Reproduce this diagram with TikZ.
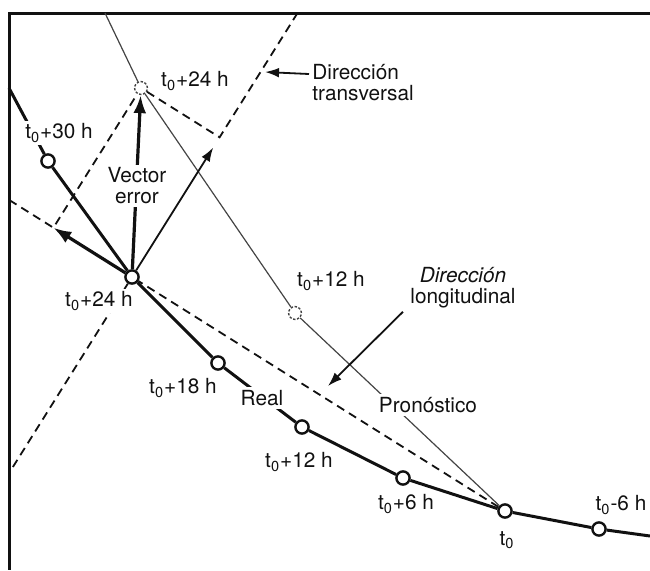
\documentclass[tikz,border=0pt]{standalone}
\usepackage{fontspec}
\setmainfont{TeX Gyre Heros}
\usetikzlibrary{arrows.meta,calc}
\definecolor{Ink}{HTML}{111111}
\definecolor{Fcst}{HTML}{444444}
\newcommand{\tcero}{t\textsubscript{0}}
\tikzset{
  track/.style={line width=1.5pt,color=Ink},
  fcst/.style={line width=0.6pt,color=Fcst},
  guide/.style={line width=0.9pt,color=Ink,dash pattern=on 4.2pt off 2.8pt},
  realpt/.style={circle,draw=Ink,line width=1.2pt,fill=white,inner sep=0pt,minimum size=6.6pt},
  fcstpt/.style={circle,draw=Fcst,line width=0.7pt,dash pattern=on 1.2pt off 0.8pt,fill=white,inner sep=0pt,minimum size=6.4pt},
  boldarr/.style={line width=1.6pt,color=Ink,-{Latex[length=9pt,width=6.4pt]}},
  thinarr/.style={line width=0.9pt,color=Ink,-{Latex[length=7pt,width=4.8pt]}},
  lab/.style={inner sep=1.5pt,text=Ink},
  cutlab/.style={lab,fill=white}
}

\begin{document}
\begin{tikzpicture}[x=0.5pt,y=-0.5pt,font=\fontsize{10.4}{10.5}\selectfont]
\useasboundingbox (0,0) rectangle (650,570);
\draw[line width=1.5pt,color=Ink] (650,13) -- (9,13) -- (9,570);

\foreach \n/\x/\y in {rm6/599/529,r0/505/511,r6/403/478,r12/302/427,r18/218/363,r24/132/277,r30/48/161}
  \node[realpt] (\n) at (\x,\y) {};
\foreach \n/\x/\y in {f12/295/313,f24/141/88}
  \node[fcstpt] (\n) at (\x,\y) {};
\coordinate (rtop) at (9,88);
\coordinate (rend) at (650,536);
\coordinate (ftop) at (105,13);
\coordinate (lfoot) at ($(r0)!(f24)!(r24)$);
\coordinate (tfoot) at ($(r24)+(f24)-(lfoot)$);
\coordinate (ltop) at ($(r24)!1.56!(lfoot)$);
\coordinate (ttop) at ($(r24)!1.89!(tfoot)$);
\coordinate (tbot) at ($(r24)!-1.36!(tfoot)$);
\coordinate (ttip) at (265,72);
\coordinate (ltip) at (328,386);

\draw[fcst] (ftop) -- (f24) -- (f12) -- (r0);
\draw[track] (rtop) -- (r30) -- (r24) -- (r18) -- (r12) -- (r6) -- (r0) -- (rm6) -- (rend);
\draw[guide] (r0) -- (r24);
\draw[guide] (ltop) -- (lfoot) -- (f24) -- (tfoot) -- (ttop);
\draw[guide] (tbot) -- (r24);
\draw[boldarr] (r24) -- (lfoot);
\draw[boldarr] (r24) -- (f24);
\draw[thinarr,shorten >=6pt] (r24) -- (tfoot);

\node[lab] (f24lab) at (195,81) {\tcero+24 h};
\node[lab] (f12lab) at (331,281) {\tcero+12 h};
\node[cutlab] (r30lab) at (59,133) {\tcero+30 h};
\node[cutlab] (r24lab) at (99,301) {\tcero+24 h};
\node[lab] (r18lab) at (183,388) {\tcero+18 h};
\node[lab] (r12lab) at (299,462) {\tcero+12 h};
\node[lab] (r6lab) at (406,504) {\tcero+6 h};
\node[lab] (r0lab) at (507,540) {\tcero};
\node[lab] (rm6lab) at (621,505) {\tcero-6 h};
\node[cutlab] (reallab) at (262,398) {Real};
\node[cutlab] (pronlab) at (428,405) {Pronóstico};
\node[cutlab,align=center] (verr) at (137,186) {Vector\\error};
\node[lab,align=left,anchor=west] (ttxt) at (309,83) {Dirección\\transversal};
\node[lab,align=center] (ltxt) at (463,288) {\textit{Dirección}\\longitudinal};

\draw[thinarr] ([yshift=4.5pt]ttxt.west) -- (ttip);
\draw[thinarr] ([xshift=-2pt]ltxt.south west) -- (ltip);
\end{tikzpicture}
\end{document}
